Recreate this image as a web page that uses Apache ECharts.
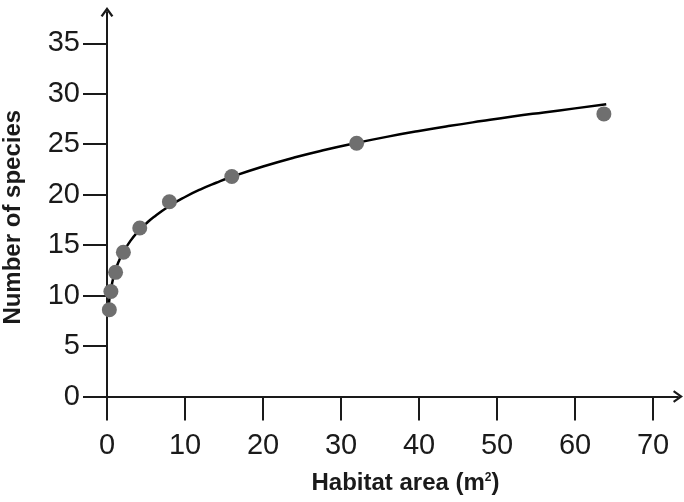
<!DOCTYPE html>
<html>
<head>
<meta charset="utf-8">
<script src="https://cdn.jsdelivr.net/npm/echarts@6/dist/echarts.min.js"></script>
<style>html,body{margin:0;padding:0;background:#fff}#chart{width:684px;height:502px}</style>
</head>
<body>
<div id="chart"></div>
<script>
// Observed data points (habitat area m², number of species)
const areaValues = [0.3, 0.5, 1.1, 2.1, 4.2, 8.0, 16.0, 32.0, 63.7];
const speciesValues = [8.6, 10.4, 12.3, 14.3, 16.7, 19.3, 21.8, 25.1, 28.0];
// Fitted curve
const curveX = [0.25, 0.5, 1, 1.5, 2, 3, 4, 5, 6, 8, 10, 12, 14, 16, 20, 24, 28, 32, 36, 40, 44, 48, 52, 56, 60, 64];
const curveY = [9.24, 10.66, 12.30, 13.37, 14.19, 15.42, 16.37, 17.13, 17.79, 18.88, 19.77, 20.53, 21.18, 21.77, 22.79, 23.68, 24.45, 25.13, 25.75, 26.31, 26.82, 27.29, 27.74, 28.15, 28.55, 28.97];
// Tick labels
const xTicks = [0, 10, 20, 30, 40, 50, 60, 70];
const yTicks = [0, 5, 10, 15, 20, 25, 30, 35];

const FONT = '"Liberation Sans", Arial, sans-serif';
const INK = '#1a1a1a';
const chevron = 'path://M0,9 L6.5,0 L13,9 L11,10.2 L6.5,3.8 L2,10.2 Z';

const chart = echarts.init(document.getElementById('chart'), null, {renderer: 'canvas'});
chart.setOption({
  animation: false,
  backgroundColor: '#ffffff',
  grid: {left: 107, right: 6, top: 12, bottom: 105.5, containLabel: false, outerBoundsMode: 'none'},
  xAxis: {
    type: 'value', min: 0, max: 73.2,
    name: 'Habitat area (m{sup|2})',
    nameLocation: 'middle', nameGap: 75,
    nameTextStyle: {
      fontFamily: FONT, fontWeight: 'bold', fontSize: 24, color: INK, padding: [0, 0, 0, 26],
      rich: {sup: {fontFamily: FONT, fontWeight: 'bold', fontSize: 12, color: INK, verticalAlign: 'top', padding: [0, 0, 12, 0]}}
    },
    axisLine: {show: true, symbol: ['none', chevron], symbolSize: [14, 10], lineStyle: {color: INK, width: 2}},
    axisTick: {show: true, inside: false, length: 24, customValues: xTicks, lineStyle: {color: INK, width: 2}},
    axisLabel: {customValues: xTicks, margin: 35, fontFamily: FONT, fontSize: 29, color: INK},
    splitLine: {show: false}
  },
  yAxis: {
    type: 'value', min: 0, max: 38.1,
    name: 'Number of species',
    nameLocation: 'middle', nameGap: 82, nameRotate: 90,
    nameTextStyle: {fontFamily: FONT, fontWeight: 'bold', fontSize: 24, color: INK, padding: [0, 26, 0, 0]},
    axisLine: {show: true, symbol: ['none', chevron], symbolSize: [14, 10], lineStyle: {color: INK, width: 2}},
    axisTick: {show: true, inside: false, length: 24, customValues: yTicks, lineStyle: {color: INK, width: 2}},
    axisLabel: {customValues: yTicks, margin: 27, fontFamily: FONT, fontSize: 29, color: INK},
    splitLine: {show: false}
  },
  series: [
    {
      type: 'line', name: 'fit',
      data: curveX.map((x, i) => [x, curveY[i]]),
      smooth: 0.5, showSymbol: false, symbol: 'none',
      lineStyle: {color: '#000', width: 2.5}, z: 2
    },
    {
      type: 'scatter', name: 'observed',
      data: areaValues.map((x, i) => [x, speciesValues[i]]),
      symbol: 'circle', symbolSize: 15,
      itemStyle: {color: '#6f6f6f', opacity: 1}, z: 3
    }
  ]
});
</script>
</body>
</html>
